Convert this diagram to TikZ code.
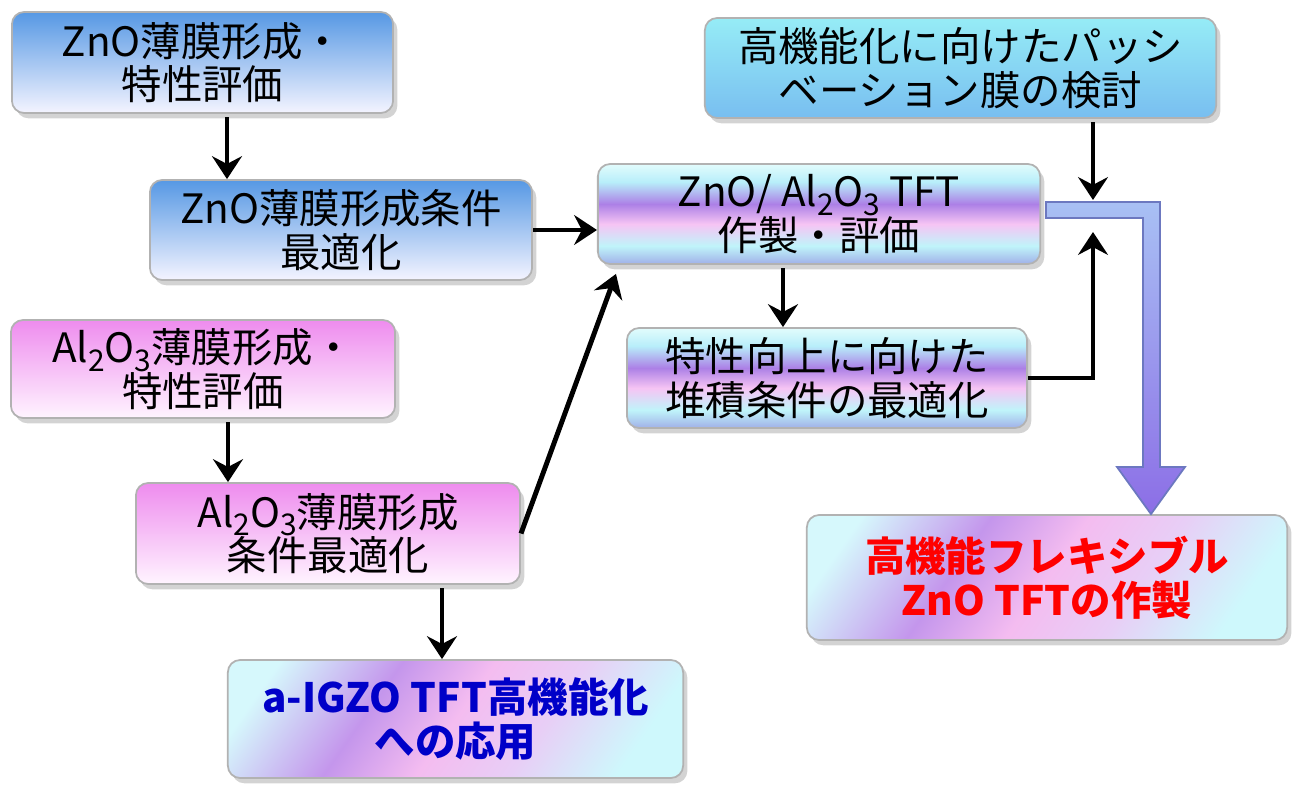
\documentclass[tikz,border=0pt]{standalone}
\usepackage{fontspec}
\setmainfont{Noto Sans CJK JP}
\usetikzlibrary{arrows.meta,shadows,calc}
\definecolor{znoT}{RGB}{86,152,228}
\definecolor{znoB}{RGB}{244,244,255}
\definecolor{alT}{RGB}{238,140,238}
\definecolor{alB}{RGB}{255,244,255}
\definecolor{pasT}{RGB}{150,236,246}
\definecolor{pasM}{RGB}{96,214,238}
\definecolor{pasB}{RGB}{120,190,240}
\definecolor{bandT}{RGB}{226,252,252}
\definecolor{bandC}{RGB}{184,238,250}
\definecolor{bandV}{RGB}{172,128,230}
\definecolor{bandP}{RGB}{246,196,244}
\definecolor{bandC2}{RGB}{192,244,250}
\definecolor{bandE}{RGB}{160,176,232}
\definecolor{dL}{RGB}{214,248,252}
\definecolor{dV}{RGB}{196,150,236}
\definecolor{dP}{RGB}{244,188,240}
\definecolor{dQ}{RGB}{232,206,246}
\definecolor{dR}{RGB}{206,248,252}
\definecolor{pipeT}{RGB}{168,192,244}
\definecolor{pipeB}{RGB}{140,110,230}
\definecolor{pipeD}{RGB}{108,120,192}
\definecolor{txtblue}{RGB}{0,0,200}
\pgfdeclareverticalshading{bandshade}{100bp}{color(0bp)=(bandE); color(25bp)=(bandE); color(34bp)=(bandC2); color(45bp)=(bandP); color(55bp)=(bandV); color(66bp)=(bandC); color(75bp)=(bandT); color(100bp)=(bandT)}
\pgfdeclarehorizontalshading{diagshade}{100bp}{color(0bp)=(dL); color(22bp)=(dL); color(38bp)=(dV); color(50bp)=(dP); color(62bp)=(dQ); color(76bp)=(dR); color(100bp)=(dR)}
\newcommand{\subs}[1]{\raisebox{-0.4ex}{\fontsize{8.5}{8.5}\selectfont #1}}
\tikzset{
  box/.style={rounded corners=3.5pt, inner sep=0pt, align=center, draw=black!30, line width=0.5pt,
    drop shadow={shadow xshift=1.2pt, shadow yshift=-1.5pt, opacity=0.35},
    font=\fontsize{11.5}{12.4}\selectfont, text=black},
  znobox/.style={box, top color=znoT, bottom color=znoB},
  albox/.style={box, top color=alT, bottom color=alB},
  pasbox/.style={box, top color=pasT, middle color=pasM, bottom color=pasB},
  bandbox/.style={box, shading=bandshade},
  goalbox/.style={box, shading=diagshade, shading angle=-35, font=\fontsize{11.5}{12.6}\selectfont\bfseries},
  arr/.style={line width=1.4pt, -{Stealth[length=6.5pt,width=8.5pt,inset=2.2pt]}},
  pipe/.style={top color=pipeT, bottom color=pipeB, draw=pipeD, line width=0.5pt}
}
\begin{document}
\begin{tikzpicture}[x=0.01cm,y=-0.01cm]
\useasboundingbox (0,0) rectangle (1293,785);
% nodes
\node[znobox, minimum width=3.81cm, minimum height=1.01cm] (b1) at (202.5,62.5) {ZnO薄膜形成・\\特性評価};
\node[znobox, minimum width=3.82cm, minimum height=1.00cm] (b2) at (341,230) {ZnO薄膜形成条件\\最適化};
\node[albox, minimum width=3.84cm, minimum height=0.98cm] (b3) at (203,369) {Al\subs{2}O\subs{3}薄膜形成・\\特性評価};
\node[albox, minimum width=3.84cm, minimum height=1.01cm] (b4) at (328,533.5) {Al\subs{2}O\subs{3}薄膜形成\\条件最適化};
\node[goalbox, minimum width=4.55cm, minimum height=1.18cm, text=txtblue] (b5) at (455.5,719) {a-IGZO TFT高機能化\\への応用};
\node[pasbox, minimum width=5.11cm, minimum height=1.00cm] (b6) at (960.5,68) {高機能化に向けたパッシ\\ベーション膜の検討};
\node[bandbox, minimum width=4.42cm, minimum height=1.00cm] (b7) at (819,214) {ZnO/ Al\subs{2}O\subs{3} TFT\\作製・評価};
\node[bandbox, minimum width=4.00cm, minimum height=1.00cm] (b8) at (827,378) {特性向上に向けた\\堆積条件の最適化};
\node[goalbox, minimum width=4.80cm, minimum height=1.25cm, text=red] (b9) at (1047,577.5) {高機能フレキシブル\\ZnO TFTの作製};
% helper coordinates
\coordinate (a1) at (227,0);
\coordinate (a3) at (228,0);
\coordinate (a4) at (442,0);
\coordinate (a7) at (783,0);
\coordinate (jt) at (1093,200);
\coordinate (jb) at (1093,232);
% connectors
\draw[arr] ([yshift=-1pt]b1.south -| a1) -- (b2.north -| a1);
\draw[arr] (b2.east) -- (b2.east -| b7.west);
\draw[arr] ([yshift=-1pt]b3.south -| a3) -- (b4.north -| a3);
\draw[arr] ([yshift=-1pt]b4.south -| a4) -- (b5.north -| a4);
\draw[arr] (b4.east) -- ($(b7.south west)+(19,9)$);
\draw[arr] ([yshift=-1pt]b7.south -| a7) -- (b8.north -| a7);
\draw[arr] ([yshift=-1pt]b6.south -| jt) -- (jt);
\draw[arr] (b8.east) -| (jb);
% fat arrow from junction to goal
\coordinate (p0) at ($(b7.east)+(5,-12)$);
\draw[pipe] (p0) -- (1160,202) -- (1160,467) -- (1185,467) -- (b9.north -| 1151,0) -- (1117,467) -- (1143,467) -- (1143,218) -- ($(p0)+(0,16)$) -- cycle;
\end{tikzpicture}
\end{document}
